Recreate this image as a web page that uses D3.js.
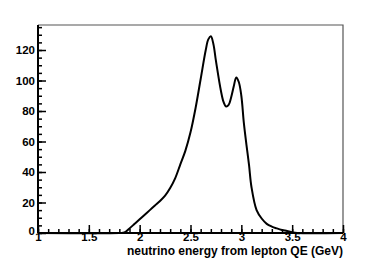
<!DOCTYPE html>
<html>
<head>
<meta charset="utf-8">
<script src="https://cdn.jsdelivr.net/npm/d3@7"></script>
<style>
  body { margin: 0; background: #fff; }
  text { font-family: "Liberation Sans", Arial, sans-serif; font-weight: bold; }
</style>
</head>
<body>
<div id="chart"></div>
<script>
// neutrino energy (GeV) and counts
const energy = [1.00, 1.80, 1.85, 1.90, 1.95, 2.00, 2.05, 2.10, 2.15, 2.20, 2.25, 2.30, 2.35, 2.40, 2.45,
    2.50, 2.55, 2.60, 2.65, 2.675, 2.70, 2.725, 2.75, 2.80, 2.825, 2.85, 2.875, 2.90, 2.925, 2.95,
    2.975, 3.00, 3.025, 3.05, 3.075, 3.10, 3.15, 3.20, 3.25, 3.30, 3.35, 3.40, 3.45, 3.50, 3.55, 4.00];
const counts = [0, 0, 0.3, 3, 6, 9, 12, 15, 18, 21, 24.5, 29.5, 36, 45, 54,
    66, 82, 101, 120, 127, 129, 124, 113, 93, 86, 83, 84, 89, 96, 102,
    99, 90, 72, 58, 45, 30, 15, 9.5, 6, 4.2, 3, 2, 1.3, 0.5, 0, 0];
const xMajor = [1, 1.5, 2, 2.5, 3, 3.5, 4];
const yMajor = [0, 20, 40, 60, 80, 100, 120];

const W = 382, H = 259;
const mLeft = 38, mRight = 343, mTop = 25, mBottom = 233;

const svg = d3.select('#chart').append('svg').attr('width', W).attr('height', H);

const x = d3.scaleLinear().domain([1, 4]).range([mLeft, mRight]);
const y = d3.scaleLinear().domain([0, 136.4]).range([mBottom, mTop]);

// frame top and right
svg.append('path')
    .attr('d', `M${mLeft},${mTop}H${mRight}V${mBottom}`)
    .attr('fill', 'none').attr('stroke', '#555').attr('stroke-width', 1.2);

// minor ticks
svg.append('g').attr('transform', `translate(${mLeft},0)`)
    .call(d3.axisLeft(y).tickValues(d3.range(0, 136, 5)).tickSizeInner(-4).tickSizeOuter(0).tickFormat(''))
    .call(g => g.select('.domain').remove());
svg.append('g').attr('transform', `translate(0,${mBottom})`)
    .call(d3.axisBottom(x).tickValues(d3.range(10, 41).map(d => d / 10)).tickSizeInner(-4).tickSizeOuter(0).tickFormat(''))
    .call(g => g.select('.domain').remove());

// major ticks + labels
let yAx = svg.append('g').attr('transform', `translate(${mLeft},0)`)
    .call(d3.axisLeft(y).tickValues(yMajor).tickSizeInner(-8).tickSizeOuter(0).tickPadding(3).tickFormat(d3.format('~g')))
    .call(g => g.select('.domain').remove());
yAx.selectAll('text').attr('font-size', 11.5).attr('fill', '#000');
yAx.selectAll('text').filter(d => d === 0).attr('dy', '0.1em');

let xAx = svg.append('g').attr('transform', `translate(0,${mBottom})`)
    .call(d3.axisBottom(x).tickValues(xMajor).tickSizeInner(-8).tickSizeOuter(0).tickPadding(0).tickFormat(d3.format('~g')))
    .call(g => g.select('.domain').remove());
xAx.selectAll('text').attr('font-size', 11.5).attr('fill', '#000').attr('dy', '0.68em');

svg.selectAll('.tick line').attr('stroke', '#000').attr('stroke-width', 1.5);

// axis lines
svg.append('line').attr('x1', mLeft).attr('x2', mLeft).attr('y1', mTop).attr('y2', mBottom)
    .attr('stroke', '#000').attr('stroke-width', 2);
svg.append('line').attr('x1', mLeft).attr('x2', mRight).attr('y1', mBottom).attr('y2', mBottom)
    .attr('stroke', '#000').attr('stroke-width', 2);

// curve
const pts = energy.map((e, i) => [e, counts[i]]);
svg.append('path').datum(pts)
    .attr('fill', 'none').attr('stroke', '#000').attr('stroke-width', 2)
    .attr('d', d3.line().x(d => x(d[0])).y(d => Math.min(y(d[1]), mBottom)).curve(d3.curveCatmullRom));

// axis title
svg.append('text').attr('x', mRight).attr('y', 255).attr('text-anchor', 'end')
    .attr('font-size', 12).attr('fill', '#000')
    .text('neutrino energy from lepton QE (GeV)');
</script>
</body>
</html>
